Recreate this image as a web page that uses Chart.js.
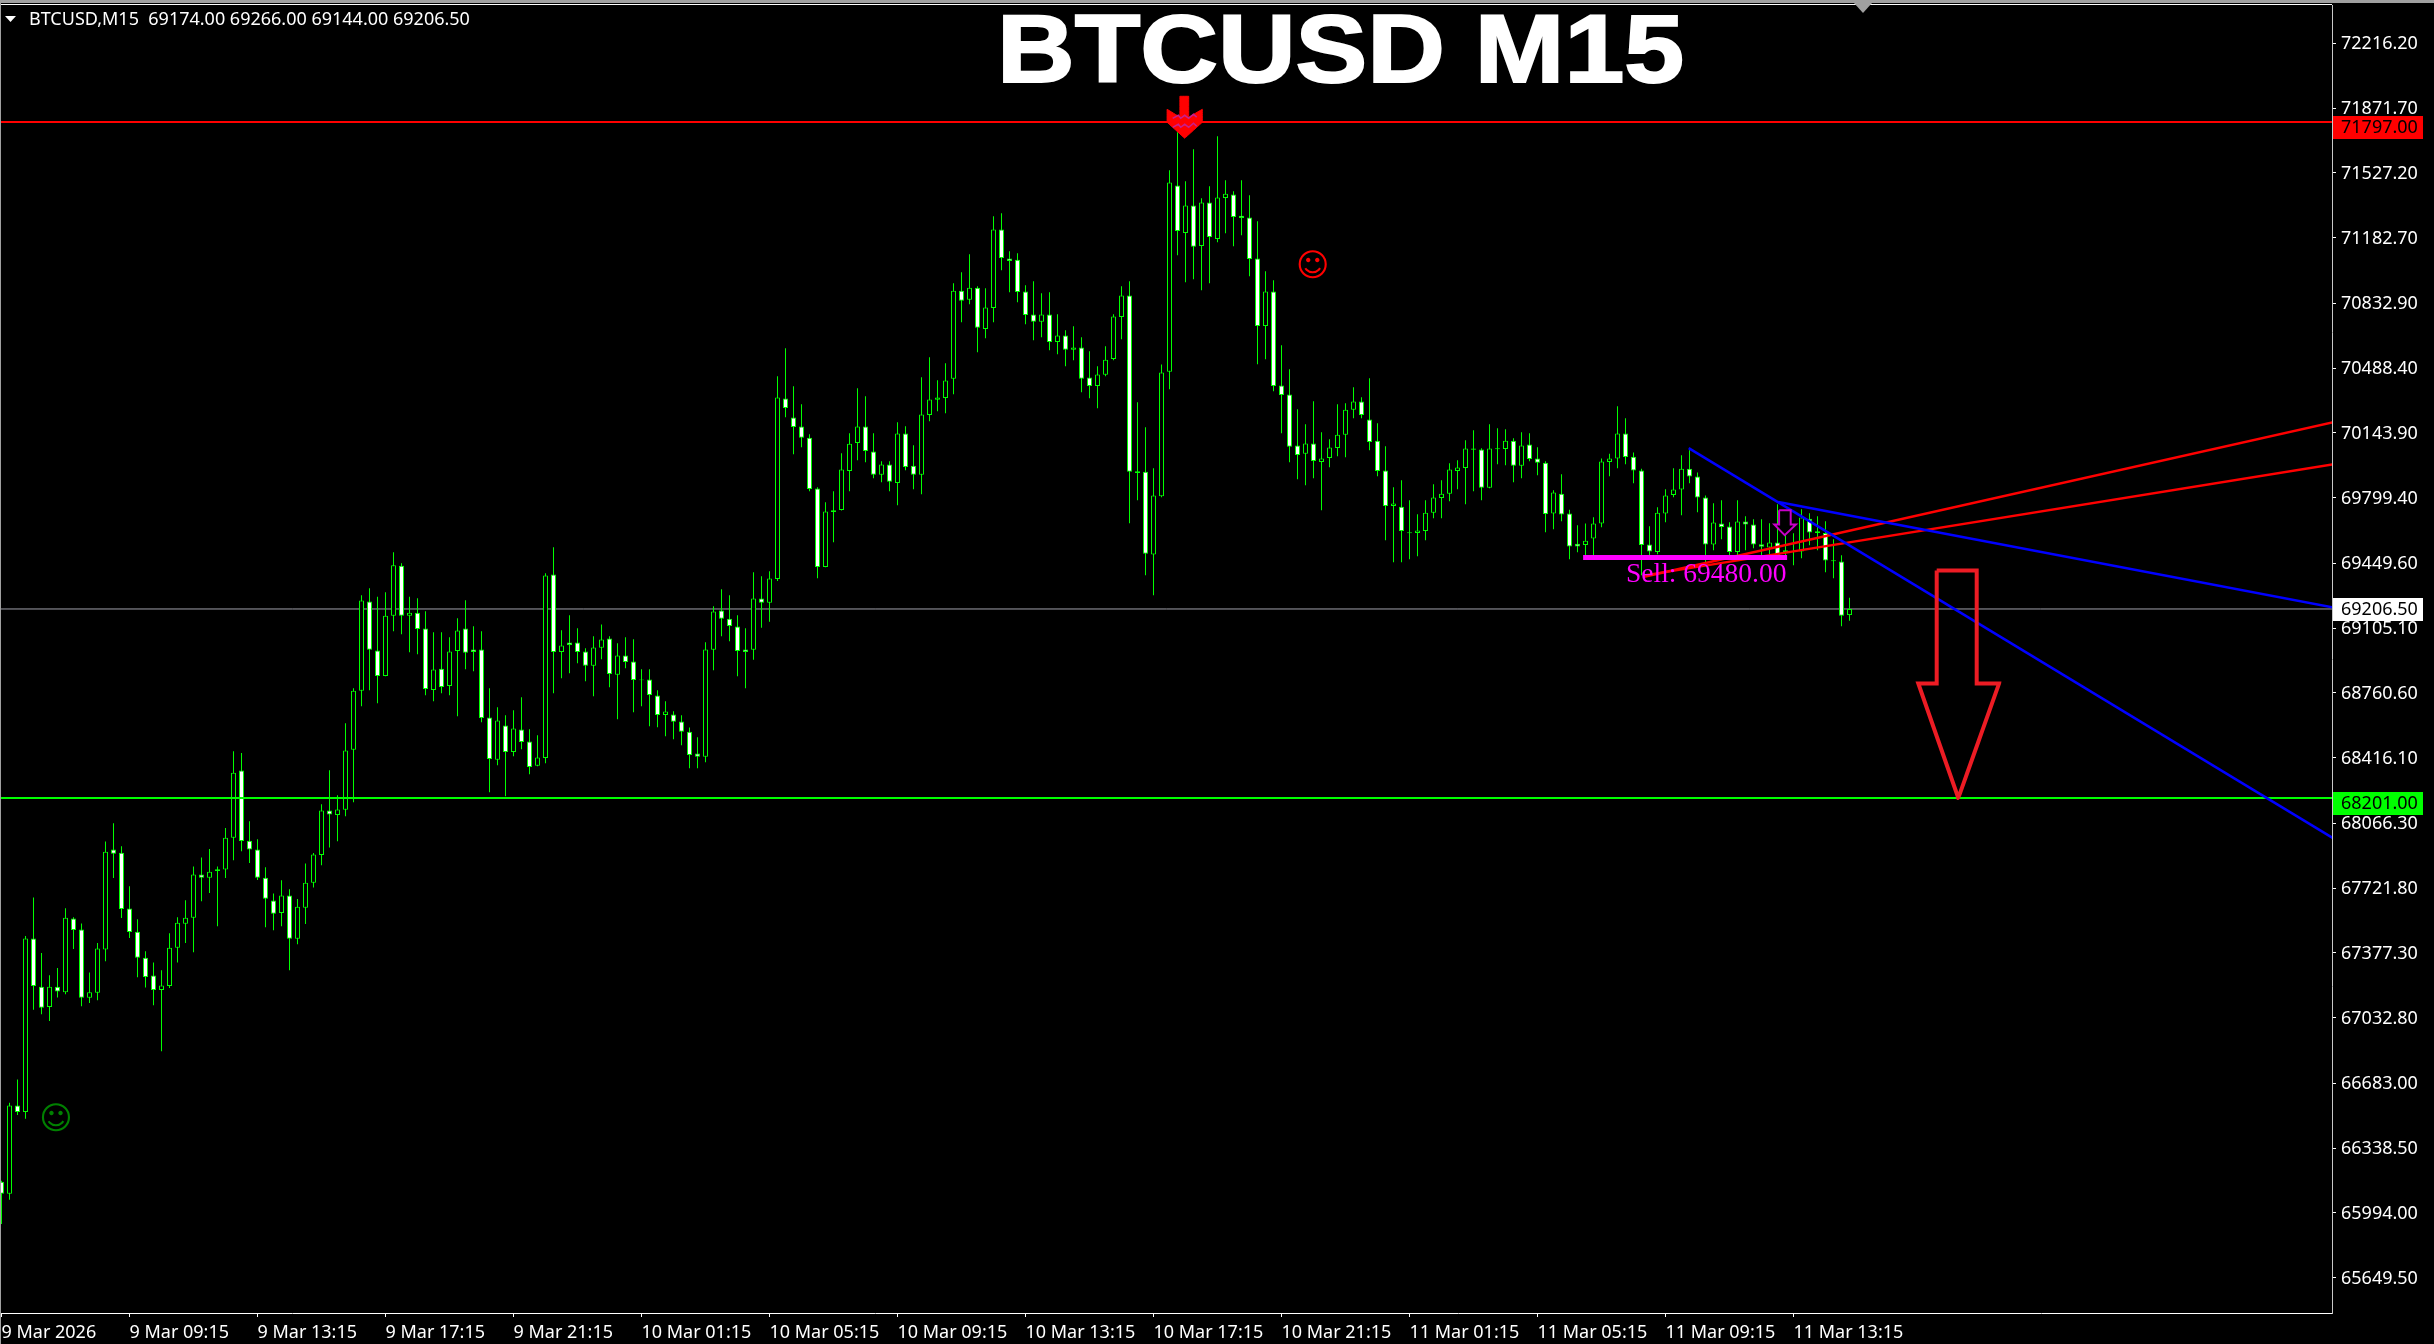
<!DOCTYPE html>
<html>
<head>
<meta charset="utf-8">
<title>BTCUSD M15</title>
<script src="https://cdn.jsdelivr.net/npm/chart.js@4/dist/chart.umd.js"></script>
<style>
  html, body { margin: 0; padding: 0; background: #000; overflow: hidden; }
  #wrap { position: relative; width: 2434px; height: 1344px; }
</style>
</head>
<body>
<div id="wrap"><canvas id="myChart"></canvas></div>
<script>
// candles, 15 minute bars
const opens = [
  66160,66095,66565,66530,67454,67197,67089,67197,67167,67560,
  67501,67138,67165,67395,67927,67910,67613,67490,67351,67256,
  67180,67201,67404,67532,67564,67794,67777,67813,67820,67989,
  68347,67974,67927,67777,67655,67589,67682,67452,67617,67750,
  67898,68134,68111,68138,68457,68771,69246,68985,68850,69170,
  69437,69170,69187,69102,68776,68889,68797,68983,69102,68991,
  68991,68629,68404,68586,68446,68565,68501,68372,68414,69390,
  68978,69028,69028,68980,68904,69000,69049,68856,68959,68927,
  68832,68831,68746,68643,68645,68608,68554,68437,68420,68989,
  69198,69155,69113,68991,68989,69262,69239,69366,70326,70225,
  70177,70118,69847,69430,69723,69733,69941,70090,70177,70044,
  69920,69975,69877,70140,69969,69920,70239,70319,70329,70431,
  70900,70851,70916,70696,70808,71225,71071,71065,70895,70773,
  70734,70773,70627,70661,70585,70597,70438,70393,70452,70537,
  70760,70874,69939,69937,69496,69806,70468,71459,71207,71353,
  71138,71369,71175,71393,71411,71299,71289,71071,70712,70895,
  70395,70347,70076,70032,70087,69989,70010,70063,70133,70266,
  70310,70214,70102,69943,69755,69751,69615,69611,69622,69718,
  69797,69819,69941,69957,70053,70055,69851,70056,70058,70102,
  69968,70081,70007,69985,69714,69820,69714,69554,69547,69581,
  69661,69989,70007,70140,70017,69943,69549,69510,69714,69813,
  69842,69953,69911,69799,69549,69661,69645,69510,69672,69656,
  69551,69533,69560,69519,69515,69512,69687,69611,69611,69466,
  69459,69174];
const highs = [
  66165,66580,66703,67467,67672,67376,67258,67296,67615,67566,
  67533,67273,67429,67970,68067,67944,67731,67556,67385,67326,
  67285,67482,67566,67657,67837,67885,67929,67837,68041,68449,
  68440,68077,67982,67832,67693,67763,67716,67663,67853,67908,
  68168,68349,68216,68599,68785,69280,69317,69272,69296,69508,
  69450,69272,69264,69194,69083,69083,69056,69157,69253,69115,
  69088,68785,68684,68641,68668,68737,68567,68535,69397,69535,
  69093,69173,69104,68998,69061,69124,69061,69024,69056,69046,
  68886,68886,68774,68716,68662,68641,68576,68524,69030,69221,
  69312,69280,69173,69104,69402,69381,69407,70445,70594,70391,
  70296,70136,69854,69774,69833,70035,70141,70381,70338,70141,
  69992,69992,70200,70179,70078,70439,70546,70423,70514,70940,
  70998,71094,70923,70913,71296,71312,71110,71099,70929,70950,
  70886,70892,70775,70689,70711,70652,70578,70498,70604,70775,
  70923,70950,70306,70173,69955,70507,71541,71743,71482,71652,
  71392,71455,71721,71487,71429,71487,71408,71269,71003,70955,
  70610,70482,70269,70189,70312,70147,70110,70296,70301,70386,
  70333,70434,70195,70072,69854,69891,69785,69711,69785,69870,
  69891,69982,69998,70104,70157,70062,70189,70168,70163,70115,
  70147,70141,70067,69993,69838,69923,69735,69652,69661,69695,
  70007,70033,70285,70221,70039,69953,69647,69748,69844,69955,
  70024,70051,69932,69810,69769,69785,69668,69785,69700,69684,
  69684,69663,69764,69600,69609,69737,69716,69700,69673,69577,
  69492,69266];
const lows = [
  65934,66063,66515,66494,67074,67051,67015,67140,67157,67397,
  67093,67110,67125,67332,67775,67562,67456,67247,67193,67098,
  66853,67190,67326,67429,67380,67651,67695,67518,67775,67870,
  67917,67855,67765,67513,67497,67518,67285,67423,67530,67725,
  67843,67938,67971,68104,68178,68689,68774,68705,68848,69088,
  69072,68976,68966,68748,68716,68758,68748,68636,68886,68875,
  68604,68232,68375,68210,68423,68460,68327,68370,68386,68758,
  68838,68865,68918,68822,68742,68939,68790,68620,68891,68657,
  68689,68583,68577,68529,68514,68482,68359,68359,68391,68881,
  69061,69035,68849,68785,68936,69106,69138,69356,70227,70030,
  70067,69833,69370,69428,69562,69731,69833,69998,69987,69902,
  69881,69833,69758,69945,69843,69817,70205,70258,70248,70349,
  70732,70828,70572,70647,70732,71009,70892,70838,70721,70636,
  70652,70583,70562,70498,70530,70360,70328,70274,70445,70530,
  70642,69663,69785,69386,69280,69801,70376,71088,70945,70961,
  70902,70939,71158,71205,71136,71195,70977,70509,70535,70365,
  70141,69987,69897,69865,69902,69732,69961,70019,70014,70221,
  70221,70051,69913,69572,69455,69455,69471,69487,69572,69689,
  69689,69780,69844,69764,69833,69785,69849,69977,69971,69881,
  69902,69992,69918,69615,69631,69673,69471,69508,69491,69491,
  69641,69913,69955,69977,69875,69386,69492,69498,69668,69801,
  69705,69875,69721,69448,69519,69577,69492,69487,69519,69530,
  69492,69487,69470,69483,69439,69476,69546,69519,69402,69370,
  69115,69144];
const closes = [
  66095,66565,66530,67454,67201,67085,67197,67172,67564,67499,
  67138,67167,67400,67915,67904,67611,67488,67351,67248,67180,
  67203,67404,67537,67564,67794,67777,67809,67822,67989,68335,
  67972,67927,67777,67665,67585,67682,67452,67623,67750,67900,
  68134,68113,68140,68453,68772,69251,68989,68850,69171,69439,
  69170,69187,69100,68781,68884,68792,68980,69092,68973,68978,
  68627,68409,68613,68446,68570,68499,68366,68416,69384,68978,
  69012,69015,68978,68904,69001,69044,68861,68959,68925,68829,
  68827,68749,68643,68661,68606,68553,68430,68420,68991,69193,
  69154,69116,68983,68978,69262,69239,69368,70331,70276,70175,
  70117,69845,69430,69725,69732,69948,70086,70177,70047,69920,
  69975,69883,70140,69962,69920,70241,70321,70331,70422,70900,
  70846,70916,70702,70810,71225,71074,71058,70893,70771,70734,
  70773,70627,70661,70585,70597,70431,70393,70454,70533,70762,
  70874,69936,69930,69500,69810,70464,71475,71218,71353,71133,
  71369,71186,71395,71416,71292,71287,71069,70712,70895,70393,
  70345,70069,70026,70087,69994,70007,70065,70134,70267,70310,
  70239,70095,69941,69755,69767,69622,69609,69624,69719,69799,
  69820,69948,69959,70060,70060,69851,70060,70062,70102,69968,
  70076,70005,69984,69712,69826,69709,69539,69539,69570,69661,
  69991,70007,70140,70015,69943,69547,69512,69719,69810,69842,
  69953,69911,69799,69549,69666,69643,69510,69672,69656,69549,
  69537,69560,69483,69510,69509,69693,69613,69620,69464,69460,
  69171,69206.5];

// axis labels
const timeTickBars = [0,16,32,48,64,80,96,112,128,144,160,176,192,208,224];
const timeLabels = ['9 Mar 2026','9 Mar 09:15','9 Mar 13:15','9 Mar 17:15','9 Mar 21:15',
  '10 Mar 01:15','10 Mar 05:15','10 Mar 09:15','10 Mar 13:15','10 Mar 17:15','10 Mar 21:15',
  '11 Mar 01:15','11 Mar 05:15','11 Mar 09:15','11 Mar 13:15'];
const priceTicks = [72216.2,71871.7,71527.2,71182.7,70832.9,70488.4,70143.9,69799.4,69449.6,
  69105.1,68760.6,68416.1,68066.3,67721.8,67377.3,67032.8,66683.0,66338.5,65994.0,65649.5];

// levels and drawn objects, bar number / price
const resistance = 71797;
const support = 68201;
const lastPrice = 69206.5;
const sellPrice = 69480;
const sellBars = [197.7,223.2];
const blue1Bars = [210.9,291.5];
const blue1Prices = [70062,67986];
const blue2Bars = [222.1,291.5];
const blue2Prices = [69776,69214];
const red1Bars = [205.2,291.5];
const red1Prices = [69377,70200];
const red2Bars = [205.2,291.5];
const red2Prices = [69384,69976];
const bigArrowBars = [241.9,246.9,246.9,249.7,244.6,239.6,241.9,241.9];
const bigArrowPrices = [69411,69411,68810,68810,68201,68810,68810,69411];
const sellArrowBars = [222.2,223.65,223.65,224.3,222.9,221.6,222.2,222.2];
const sellArrowPrices = [69732,69732,69656,69656,69599,69656,69656,69732];
const topArrowBars = [147.3,148.4,148.4,150.1,150.1,147.9,145.7,145.7,147.3,147.3];
const topArrowPrices = [71934,71934,71823,71865,71796,71711,71796,71865,71823,71934];
const zigBars = [146.4,147.1,147.4,147.9,148.4,149,149.4];
const zigPrices1 = [71817,71833,71817,71833,71817,71838,71823];
const zigPrices2 = [71769,71785,71769,71785,71769,71791,71775];

const UI_FONT = '"Noto Sans"';
const xMin = -0.0625, xMax = 291.3125;
const yMin = 65461.1, yMax = 72419.7;

function toPoints(bars, prices) {
  return bars.map(function (b, i) { return { x: b, y: prices[i] }; });
}
function lineSet(bars, prices, color, width, order, extra) {
  return Object.assign({
    type: 'line',
    data: toPoints(bars, prices),
    borderColor: color,
    borderWidth: width,
    pointRadius: 0,
    tension: 0,
    fill: false,
    order: order,
    borderCapStyle: 'butt',
    borderJoinStyle: 'miter'
  }, extra || {});
}

const wickData = highs.map(function (h, i) { return { x: i, y: [lows[i], h] }; });
const bodyData = opens.map(function (o, i) { return { x: i, y: [o, closes[i]] }; });

const datasets = [
  {
    type: 'bar', label: 'wick', data: wickData, grouped: false,
    backgroundColor: '#00ff00', borderWidth: 0, inflateAmount: 0,
    barPercentage: 1, categoryPercentage: 1, maxBarThickness: 1, order: 6
  },
  {
    type: 'bar', label: 'body', data: bodyData, grouped: false,
    backgroundColor: closes.map(function (c, i) { return c >= opens[i] ? '#000000' : '#ffffff'; }),
    borderColor: '#00ff00', borderWidth: 1, borderSkipped: false, inflateAmount: 0,
    barPercentage: 1, categoryPercentage: 1, maxBarThickness: 5, order: 5
  },
  lineSet([xMin, xMax], [lastPrice, lastPrice], '#a0a0aa', 1, 7),
  lineSet([xMin, xMax], [resistance, resistance], '#ff0000', 2, 4),
  lineSet([xMin, xMax], [support, support], '#00ff00', 2, 4),
  lineSet(sellBars, [sellPrice, sellPrice], '#ff00ff', 5, 3),
  lineSet(red1Bars, red1Prices, '#ff0000', 2.5, 3),
  lineSet(red2Bars, red2Prices, '#ff0000', 2.5, 3),
  lineSet(blue1Bars, blue1Prices, '#0000ff', 2.5, 2),
  lineSet(blue2Bars, blue2Prices, '#0000ff', 2.5, 2),
  // tiny tension so chart.js does not use its fast path, the fast path wants x sorted
  lineSet(bigArrowBars, bigArrowPrices, '#ed1c24', 4, 1, { tension: 0.001 }),
  lineSet(sellArrowBars, sellArrowPrices, '#c800c8', 2, 1, { tension: 0.001, fill: 'shape', backgroundColor: '#000000' }),
  lineSet(topArrowBars, topArrowPrices, '#ff0000', 1, 1, { tension: 0.001, fill: 'shape', backgroundColor: '#ff0000' }),
  lineSet(zigBars, zigPrices1, '#c81e8c', 1.5, 0),
  lineSet(zigBars, zigPrices2, '#c81e8c', 1.5, 0)
];

// frame, top strip, header text, title, price tags etc
const overlayPlugin = {
  id: 'overlay',
  afterDraw: function (chart) {
    const ctx = chart.ctx;
    const x = chart.scales.x, y = chart.scales.y;
    ctx.save();

    ctx.fillStyle = '#a0a0a0';
    ctx.fillRect(0, 0, 2434, 3);
    ctx.fillRect(0, 0, 1, 1344);
    ctx.fillStyle = '#ffffff';
    ctx.fillRect(1, 4, 2331, 1);

    ctx.fillStyle = '#a0a0a0';
    ctx.beginPath();
    ctx.moveTo(1854, 3); ctx.lineTo(1872, 3); ctx.lineTo(1863, 13); ctx.closePath();
    ctx.fill();

    ctx.fillStyle = '#ffffff';
    ctx.beginPath();
    ctx.moveTo(5, 16); ctx.lineTo(16, 16); ctx.lineTo(10.5, 22); ctx.closePath();
    ctx.fill();

    ctx.textAlign = 'left';
    ctx.textBaseline = 'alphabetic';
    ctx.font = '18px ' + UI_FONT;
    ctx.fillText('BTCUSD,M15  69174.00 69266.00 69144.00 69206.50', 29, 25);

    // title is stretched a bit wider than the font is
    ctx.save();
    ctx.translate(997, 82);
    ctx.scale(1.12, 1);
    ctx.font = 'bold 96px "Liberation Sans"';
    ctx.strokeStyle = '#ffffff';
    ctx.lineWidth = 2;
    ctx.fillText('BTCUSD M15', 0, 0);
    ctx.strokeText('BTCUSD M15', 0, 0);
    ctx.restore();

    ctx.fillStyle = '#ff00ff';
    ctx.font = '27.5px "Liberation Serif"';
    ctx.fillText('Sell: ' + sellPrice.toFixed(2), 1626, 582);

    ctx.textAlign = 'center';
    ctx.textBaseline = 'middle';
    ctx.font = '32px "DejaVu Sans"';
    ctx.fillStyle = '#ff0000';
    ctx.fillText('\u263A', x.getPixelForValue(163.9), y.getPixelForValue(71031) + 2);
    ctx.fillStyle = '#008000';
    ctx.fillText('\u263A', x.getPixelForValue(6.8), y.getPixelForValue(66497) + 2);

    // price tags on the axis, the level tags hang lower than the last price one
    const tags = [[resistance, '#ff0000', 6], [support, '#00ff00', 6], [lastPrice, '#ffffff', 11]];
    ctx.textAlign = 'left';
    ctx.font = '18px ' + UI_FONT;
    tags.forEach(function (t) {
      const top = Math.round(y.getPixelForValue(t[0])) - t[2];
      ctx.fillStyle = t[1];
      ctx.fillRect(2333, top, 90, 23);
      ctx.fillStyle = '#000000';
      ctx.fillText(t[0].toFixed(2), 2341, top + 12);
    });
    ctx.restore();
  }
};

const config = {
  type: 'bar',
  data: { datasets: datasets },
  plugins: [overlayPlugin],
  options: {
    responsive: true,
    maintainAspectRatio: false,
    animation: false,
    layout: { padding: { left: 1, top: 5, right: 0, bottom: 0 } },
    plugins: { legend: { display: false }, tooltip: { enabled: false } },
    scales: {
      x: {
        type: 'linear',
        min: xMin,
        max: xMax,
        offset: false,
        grid: { drawOnChartArea: false, drawTicks: true, tickLength: 4, color: '#ffffff', tickColor: '#ffffff', lineWidth: 1, offset: false },
        border: { color: '#ffffff' },
        afterBuildTicks: function (axis) {
          axis.ticks = timeTickBars.map(function (v) { return { value: v }; });
        },
        afterFit: function (axis) {
          axis.height = 31;
          axis.paddingLeft = 0;
          axis.paddingRight = 0;
        },
        ticks: {
          align: 'start',
          padding: 5,
          color: '#ffffff',
          autoSkip: false,
          maxRotation: 0,
          minRotation: 0,
          font: { family: 'Noto Sans', size: 18 },
          callback: function (value, index) { return timeLabels[index]; }
        }
      },
      y: {
        position: 'right',
        min: yMin,
        max: yMax,
        grid: { drawOnChartArea: false, drawTicks: true, tickLength: 4, color: '#ffffff', tickColor: '#ffffff', lineWidth: 1 },
        border: { color: '#c8c8c8' },
        afterBuildTicks: function (axis) {
          axis.ticks = priceTicks.map(function (v) { return { value: v }; });
        },
        afterFit: function (axis) {
          axis.width = 102;
          axis.paddingTop = 0;
          axis.paddingBottom = 0;
        },
        ticks: {
          padding: 5,
          labelOffset: 1,
          color: '#ffffff',
          autoSkip: false,
          font: { family: 'Noto Sans', size: 18 },
          callback: function (value) { return value.toFixed(2); }
        }
      }
    }
  }
};

const myChart = new Chart(document.getElementById('myChart'), config);
</script>
</body>
</html>
